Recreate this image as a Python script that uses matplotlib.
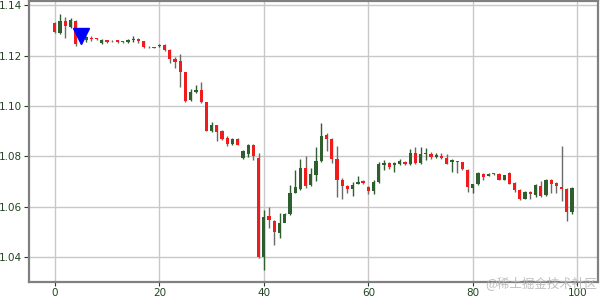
import numpy as np
import matplotlib
matplotlib.use("Agg")
import matplotlib.pyplot as plt
import matplotlib.ticker as ticker

# candle data (open, high, low, close)
opens = [1.1330, 1.1291, 1.1336, 1.1314, 1.1338, 1.1280, 1.1263, 1.1272, 1.1268, 1.1251,
         1.1261, 1.1259, 1.1261, 1.1258, 1.1255, 1.1263, 1.1267, 1.1258, 1.1235, 1.1233,
         1.1237, 1.1244, 1.1221, 1.1188, 1.1179, 1.1135, 1.1026, 1.1056, 1.1062, 1.1016,
         1.0900, 1.0923, 1.0903, 1.0874, 1.0850, 1.0870, 1.0794, 1.0810, 1.0846, 1.0793,
         1.0402, 1.0564, 1.0542, 1.0498, 1.0535, 1.0572, 1.0657, 1.0671, 1.0754, 1.0687,
         1.0727, 1.0784, 1.0886, 1.0869, 1.0789, 1.0705, 1.0683, 1.0671, 1.0691, 1.0702,
         1.0679, 1.0663, 1.0699, 1.0765, 1.0774, 1.0765, 1.0769, 1.0778, 1.0772, 1.0814,
         1.0774, 1.0809, 1.0811, 1.0796, 1.0803, 1.0793, 1.0778, 1.0782, 1.0778, 1.0748,
         1.0673, 1.0689, 1.0732, 1.0723, 1.0732, 1.0732, 1.0708, 1.0734, 1.0695, 1.0666,
         1.0632, 1.0659, 1.0646, 1.0681, 1.0646, 1.0705, 1.0695, 1.0677, 1.0672, 1.0579]
closes = [1.1294, 1.1338, 1.1316, 1.1343, 1.1247, 1.1258, 1.1274, 1.1265, 1.1266, 1.1263,
          1.1254, 1.1257, 1.1255, 1.1253, 1.1263, 1.1267, 1.1257, 1.1234, 1.1233, 1.1232,
          1.1244, 1.1221, 1.1188, 1.1176, 1.1136, 1.1022, 1.1056, 1.1065, 1.1016, 1.0903,
          1.0923, 1.0896, 1.0870, 1.0850, 1.0870, 1.0847, 1.0821, 1.0847, 1.0800, 1.0402,
          1.0561, 1.0546, 1.0502, 1.0535, 1.0572, 1.0654, 1.0677, 1.0754, 1.0683, 1.0731,
          1.0784, 1.0882, 1.0869, 1.0789, 1.0705, 1.0683, 1.0670, 1.0687, 1.0700, 1.0695,
          1.0663, 1.0699, 1.0772, 1.0774, 1.0758, 1.0774, 1.0782, 1.0769, 1.0814, 1.0774,
          1.0809, 1.0814, 1.0796, 1.0805, 1.0793, 1.0772, 1.0785, 1.0778, 1.0752, 1.0679,
          1.0689, 1.0734, 1.0719, 1.0732, 1.0730, 1.0708, 1.0725, 1.0692, 1.0666, 1.0632,
          1.0659, 1.0650, 1.0686, 1.0642, 1.0705, 1.0689, 1.0682, 1.0672, 1.0579, 1.0676]
highs = [1.1333, 1.1367, 1.1354, 1.1351, 1.1340, 1.1285, 1.1280, 1.1277, 1.1270, 1.1267,
         1.1264, 1.1262, 1.1263, 1.1260, 1.1266, 1.1277, 1.1270, 1.1260, 1.1237, 1.1235,
         1.1247, 1.1248, 1.1225, 1.1195, 1.1208, 1.1137, 1.1069, 1.1082, 1.1095, 1.1018,
         1.0936, 1.0926, 1.0906, 1.0880, 1.0875, 1.0873, 1.0824, 1.0851, 1.0848, 1.0813,
         1.0588, 1.0601, 1.0548, 1.0575, 1.0577, 1.0687, 1.0747, 1.0789, 1.0800, 1.0754,
         1.0837, 1.0933, 1.0895, 1.0873, 1.0842, 1.0714, 1.0686, 1.0697, 1.0723, 1.0706,
         1.0682, 1.0705, 1.0778, 1.0785, 1.0778, 1.0778, 1.0790, 1.0781, 1.0831, 1.0838,
         1.0838, 1.0835, 1.0818, 1.0813, 1.0813, 1.0811, 1.0790, 1.0784, 1.0780, 1.0750,
         1.0692, 1.0738, 1.0735, 1.0735, 1.0734, 1.0735, 1.0728, 1.0738, 1.0699, 1.0671,
         1.0662, 1.0662, 1.0689, 1.0703, 1.0712, 1.0710, 1.0699, 1.0841, 1.0674, 1.0680]
lows = [1.1291, 1.1287, 1.1271, 1.1311, 1.1240, 1.1248, 1.1254, 1.1259, 1.1264, 1.1248,
        1.1251, 1.1255, 1.1252, 1.1250, 1.1252, 1.1254, 1.1251, 1.1232, 1.1231, 1.1229,
        1.1235, 1.1218, 1.1171, 1.1152, 1.1075, 1.1015, 1.1022, 1.1052, 1.1012, 1.0900,
        1.0897, 1.0863, 1.0866, 1.0843, 1.0847, 1.0844, 1.0790, 1.0797, 1.0787, 1.0398,
        1.0350, 1.0515, 1.0449, 1.0475, 1.0568, 1.0568, 1.0654, 1.0668, 1.0674, 1.0681,
        1.0701, 1.0780, 1.0820, 1.0773, 1.0638, 1.0630, 1.0654, 1.0643, 1.0689, 1.0690,
        1.0652, 1.0652, 1.0695, 1.0745, 1.0752, 1.0738, 1.0765, 1.0765, 1.0766, 1.0771,
        1.0771, 1.0785, 1.0791, 1.0792, 1.0789, 1.0769, 1.0738, 1.0734, 1.0745, 1.0659,
        1.0655, 1.0686, 1.0705, 1.0721, 1.0728, 1.0705, 1.0705, 1.0690, 1.0659, 1.0628,
        1.0630, 1.0632, 1.0640, 1.0640, 1.0642, 1.0655, 1.0655, 1.0623, 1.0544, 1.0573]

signal_x = [5]
signal_y = [1.128]

x_ticks = [0, 20, 40, 60, 80, 100]
y_ticks = [1.04, 1.06, 1.08, 1.10, 1.12, 1.14]

up_color = '#2f5f2f'
down_color = '#f01c1c'
label_color = '#224422'

idx = np.arange(len(opens))
opens = np.asarray(opens)
closes = np.asarray(closes)
highs = np.asarray(highs)
lows = np.asarray(lows)
up = closes >= opens

fig = plt.figure(figsize=(6.0, 2.97), dpi=100)
ax = fig.add_axes([0.0483, 0.0515, 0.9483, 0.9451])

ax.grid(True, color='#c8c8c8', linewidth=1.0, linestyle='-')
ax.set_axisbelow(True)

# wicks
ax.vlines(idx[up], lows[up], highs[up], color=up_color, linewidth=1.0, zorder=2)
ax.vlines(idx[~up], lows[~up], highs[~up], color='#6a6a6a', linewidth=1.0, zorder=2)

# bodies
bottoms = np.minimum(opens, closes)
heights = np.maximum(np.abs(closes - opens), 0.0003)
ax.bar(idx[up], heights[up], width=0.62, bottom=bottoms[up], color=up_color, zorder=3)
ax.bar(idx[~up], heights[~up], width=0.62, bottom=bottoms[~up], color=down_color, zorder=3)

# signal marker
ax.plot(signal_x, signal_y, marker='v', color='#0000ff', markersize=11, linestyle='none', zorder=4)

ax.set_xlim(-4.95, 103.95)
ax.set_ylim(1.0303, 1.1417)
ax.xaxis.set_major_locator(ticker.FixedLocator(x_ticks))
ax.yaxis.set_major_locator(ticker.FixedLocator(y_ticks))
ax.yaxis.set_major_formatter(ticker.FormatStrFormatter('%.2f'))
ax.tick_params(labelsize=7.5, colors=label_color)
ax.tick_params(axis='y', length=3.5, pad=1.5)
ax.tick_params(axis='x', pad=1.2, length=3)

for sp in ax.spines.values():
    sp.set_color('#808080')
    sp.set_linewidth(1.6)

# watermark
fig.text(0.996, 0.047, '@稀土掘金技术社区', ha='right', va='center', fontsize=9,
         color='#b4b4b4', alpha=0.85, family=['Noto Sans CJK SC', 'DejaVu Sans'])

fig.savefig('out.png', dpi=100)
